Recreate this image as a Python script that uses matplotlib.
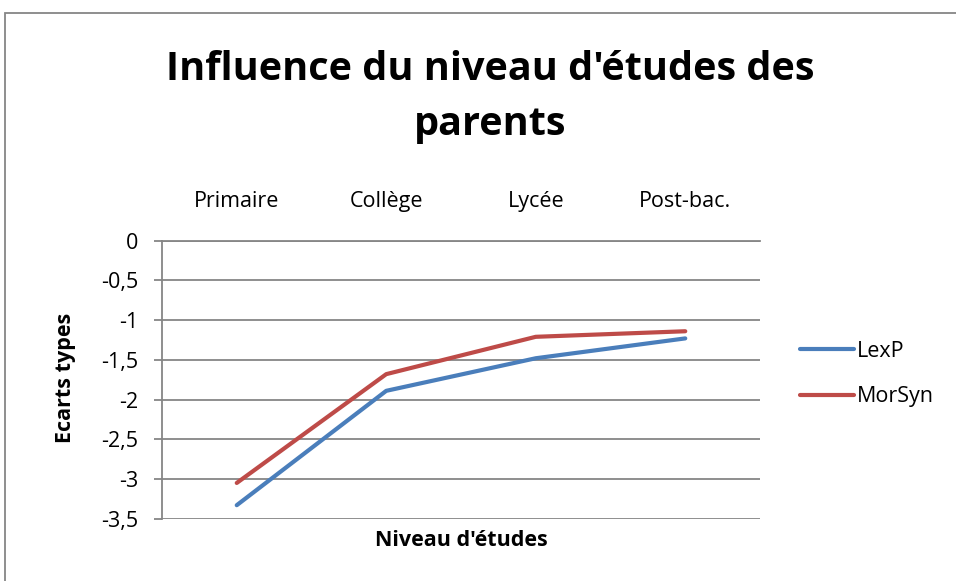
import matplotlib
matplotlib.use("Agg")
import matplotlib.pyplot as plt
from matplotlib.patches import Rectangle

categories = ["Primaire", "Collège", "Lycée", "Post-bac."]
lexp = [-3.33, -1.89, -1.48, -1.23]
morsyn = [-3.05, -1.68, -1.21, -1.14]
yticks = [0, -0.5, -1, -1.5, -2, -2.5, -3, -3.5]
ytick_labels = ["0", "-0,5", "-1", "-1,5", "-2", "-2,5", "-3", "-3,5"]

plt.rcParams['font.family'] = ['Open Sans', 'DejaVu Sans']
W, H = 956, 581
fig = plt.figure(figsize=(W / 100, H / 100), dpi=100)
fig.patches.append(Rectangle((5 / W, -0.1), 1.2, 1 - 13 / H + 0.1, transform=fig.transFigure,
                             fill=False, edgecolor='#868686', lw=1.3))

ax = fig.add_axes([162 / W, 1 - 518.7 / H, (760 - 162) / W, (518.7 - 240.7) / H])
x = list(range(len(categories)))
gray = '#868686'
ax.plot(x, lexp, color='#4A7EBB', lw=3.0, solid_capstyle='round', label='LexP')
ax.plot(x, morsyn, color='#BE4B48', lw=3.0, solid_capstyle='round', label='MorSyn')

ax.set_xlim(-0.5, 3.5)
ax.set_ylim(-3.5, 0)
ax.set_yticks(yticks)
ax.set_yticklabels(ytick_labels)
ax.yaxis.grid(True, color=gray, lw=1.3)
ax.set_axisbelow(True)
ax.tick_params(axis='y', length=6, width=1.3, color=gray, pad=11, labelsize=15.5)
ax.xaxis.tick_top()
ax.set_xticks(x)
ax.set_xticklabels(categories)
ax.tick_params(axis='x', length=0, pad=21, labelsize=15.5)
for s in ['right', 'bottom']:
    ax.spines[s].set_visible(False)
for s in ['left', 'top']:
    ax.spines[s].set_color(gray)
    ax.spines[s].set_linewidth(1.3)

fig.text(490 / W, 1 - 70 / H, "Influence du niveau d'études des", ha='center', va='center',
         fontsize=28.5, fontweight='bold')
fig.text(490 / W, 1 - 125 / H, "parents", ha='center', va='center', fontsize=28.5, fontweight='bold')
fig.text(65 / W, 1 - 378 / H, "Ecarts types", rotation=90, ha='center', va='center',
         fontsize=15.5, fontweight='bold')
fig.text(461 / W, 1 - 541 / H, "Niveau d'études", ha='center', va='center',
         fontsize=15.5, fontweight='bold')

leg = fig.legend(loc='upper left', bbox_to_anchor=(800 / W, 1 - 341 / H), frameon=False,
                 fontsize=15.5, handlelength=2.5, handletextpad=0.15, labelspacing=1.13,
                 borderpad=0, borderaxespad=0)

fig.savefig("out.png", dpi=100)
